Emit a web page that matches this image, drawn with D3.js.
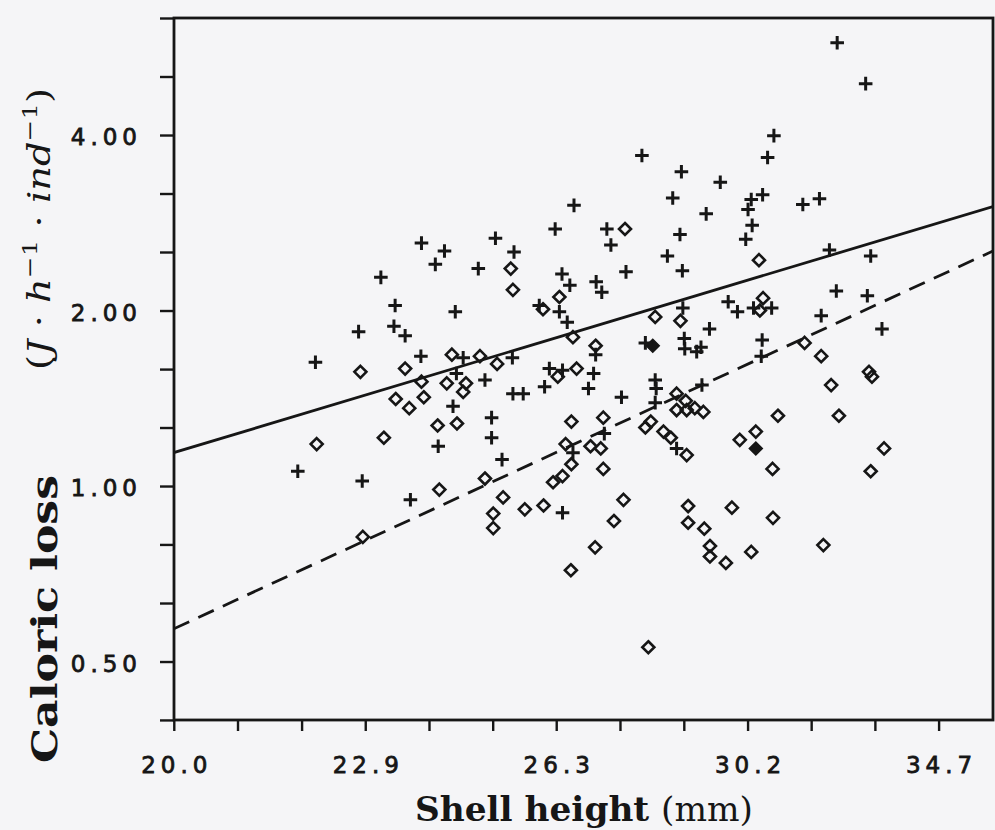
<!DOCTYPE html>
<html><head><meta charset="utf-8">
<script src="https://cdn.jsdelivr.net/npm/d3@7"></script>
<style>
body{margin:0;background:#f5f5f7;}
svg{display:block;}
</style>
</head><body>
<svg id="chart" width="995" height="830"></svg>
<script>
// ---- axis ticks ----
const xTickValues = [19.95, 20.89, 21.88, 22.91, 23.99, 25.12, 26.30, 27.54, 28.84, 30.20, 31.62, 33.11, 34.67];
const xTickLabels = ["20.0", "", "", "22.9", "", "", "26.3", "", "", "30.2", "", "", "34.7"];
const yTickValues = [0.397, 0.50, 0.63, 0.794, 1.00, 1.26, 1.587, 2.00, 2.52, 3.175, 4.00, 5.04, 6.35];
const yTickLabels = ["", "0.50", "", "", "1.00", "", "", "2.00", "", "", "4.00", "", ""];

// ---- series: crosses (+) ----
const crossX = [23.86,24.26,24.10,24.86,23.17,23.41,24.45,22.80,23.39,23.58,22.10,23.85,24.59,24.47,24.41,24.15,21.82,22.86,23.67,
 26.64,26.28,25.17,27.28,27.36,25.51,27.66,26.41,26.56,27.07,27.18,26.36,26.51,25.48,27.06,24.98,26.17,26.42,27.02,25.49,25.68,
 26.08,26.92,27.57,25.10,25.10,25.29,27.23,26.62,26.42,25.98,30.78,30.64,27.98,28.79,29.61,28.61,30.53,30.28,30.21,29.31,30.30,
 28.76,30.16,28.50,28.81,28.82,29.78,29.98,30.33,30.73,29.38,28.05,28.85,28.86,29.11,29.20,30.52,30.50,28.25,28.27,28.25,29.22,
 28.69,32.22,32.89,31.43,31.81,32.04,33.01,32.20,32.93,31.85,33.28];
const crossY = [2.61,2.53,2.40,2.36,2.28,2.04,1.99,1.84,1.88,1.81,1.63,1.67,1.66,1.56,1.37,1.17,1.06,1.02,0.947,
 3.03,2.76,2.66,2.76,2.59,2.52,2.33,2.31,2.21,2.24,2.15,1.99,1.91,1.66,1.68,1.52,1.59,1.58,1.56,1.44,1.44,
 1.48,1.47,1.42,1.31,1.21,1.11,1.23,1.14,0.90,2.04,3.99,3.66,3.69,3.46,3.32,3.12,3.16,3.10,2.98,2.93,2.80,
 2.70,2.65,2.48,2.34,2.02,2.07,1.99,2.02,2.02,1.86,1.76,1.79,1.72,1.70,1.73,1.78,1.67,1.52,1.47,1.39,1.49,
 1.16,5.76,4.90,3.04,3.11,2.54,2.48,2.16,2.12,1.96,1.86];

// ---- series: open diamonds ----
const diamondX = [22.83,23.58,23.86,24.30,24.64,24.59,23.42,23.90,23.65,24.14,24.48,23.22,22.12,24.17,22.87,24.89,24.39,
 27.64,25.45,25.49,26.36,26.05,26.62,25.20,26.33,26.69,26.59,27.21,26.48,26.96,27.16,26.59,26.42,26.24,27.21,24.98,25.31,
 25.71,26.06,25.13,25.13,27.61,27.42,27.05,26.58,27.06,30.45,30.54,30.47,28.25,28.77,28.69,28.88,28.69,28.90,29.07,29.25,
 28.05,28.16,28.42,28.57,28.90,30.87,30.38,30.03,30.75,28.93,29.86,28.93,29.27,30.76,29.39,29.39,29.73,30.28,31.47,31.85,
 32.08,32.97,33.04,32.26,33.33,33.01,31.90,28.11];
const diamondY = [1.57,1.59,1.51,1.50,1.50,1.45,1.41,1.42,1.36,1.27,1.28,1.21,1.18,0.986,0.818,1.67,1.68,
 2.76,2.36,2.17,2.11,2.01,1.80,1.62,1.54,1.59,1.29,1.31,1.18,1.17,1.16,1.09,1.04,1.015,1.07,1.03,0.956,
 0.912,0.926,0.897,0.847,0.947,0.871,0.785,0.717,1.74,2.44,2.10,2.00,1.95,1.92,1.44,1.40,1.35,1.35,1.36,1.34,
 1.26,1.29,1.24,1.21,1.13,1.32,1.24,1.20,1.07,0.924,0.918,0.865,0.845,0.882,0.789,0.757,0.738,0.771,1.76,1.67,
 1.49,1.57,1.54,1.32,1.16,1.06,0.792,0.529];

// ---- series: filled diamonds ----
const filledX = [28.20, 30.38];
const filledY = [1.74, 1.16];

// ---- fitted lines (end points) ----
const solidX = [19.95, 36.06];
const solidY = [1.141, 3.016];
const dashedX = [19.95, 36.06];
const dashedY = [0.569, 2.53];

const ink = "#161616";
const L = 174, R = 993, T = 18, B = 720;
const svg = d3.select("#chart");

const x = d3.scaleLog().domain([19.953, 36.06]).range([L, R]);
const y = d3.scaleLog().domain([0.3969, 6.35]).range([B, T]);

svg.append("defs").append("clipPath").attr("id", "plot")
  .append("rect").attr("x", L).attr("y", T).attr("width", R - L).attr("height", B - T);

// axes
const xAxis = svg.append("g").attr("transform", `translate(0,${B})`)
  .call(d3.axisBottom(x).tickValues(xTickValues).tickSize(11).tickFormat((d, i) => xTickLabels[i]));
const yAxis = svg.append("g").attr("transform", `translate(${L},0)`)
  .call(d3.axisLeft(y).tickValues(yTickValues).tickSize(14).tickFormat((d, i) => yTickLabels[i]));
[xAxis, yAxis].forEach(g => {
  g.select(".domain").remove();
  g.selectAll(".tick line").attr("stroke", ink).attr("stroke-width", 2.4);
  g.selectAll(".tick text").attr("fill", ink).attr("stroke", ink).attr("stroke-width", 0.8)
    .style("font-family", "'DejaVu Sans', sans-serif").style("font-size", "23px")
    .style("letter-spacing", "5px");
});
xAxis.selectAll(".tick text").attr("y", 53).attr("dy", 0).attr("dx", 2.5);
yAxis.selectAll(".tick text").attr("x", -32).attr("dy", "0.42em");

// frame
svg.append("rect").attr("x", L).attr("y", T).attr("width", R - L).attr("height", B - T)
  .attr("fill", "none").attr("stroke", ink).attr("stroke-width", 2.8);

const plot = svg.append("g").attr("clip-path", "url(#plot)");
const line = d3.line().x(d => x(d[0])).y(d => y(d[1]));
plot.append("path").datum(solidX.map((v, i) => [v, solidY[i]]))
  .attr("d", line).attr("fill", "none").attr("stroke", ink).attr("stroke-width", 2.8);
plot.append("path").datum(dashedX.map((v, i) => [v, dashedY[i]]))
  .attr("d", line).attr("fill", "none").attr("stroke", ink).attr("stroke-width", 2.8)
  .attr("stroke-dasharray", "17,10");

// markers
plot.selectAll("path.dia").data(diamondX.map((v, i) => [v, diamondY[i]])).enter()
  .append("path").attr("class", "dia")
  .attr("transform", d => `translate(${x(d[0])},${y(d[1])})`)
  .attr("d", "M0,-6L6,0L0,6L-6,0Z")
  .attr("fill", "none").attr("stroke", ink).attr("stroke-width", 2.6);
plot.selectAll("path.fdia").data(filledX.map((v, i) => [v, filledY[i]])).enter()
  .append("path").attr("class", "fdia")
  .attr("transform", d => `translate(${x(d[0])},${y(d[1])})`)
  .attr("d", "M0,-6.5L6.5,0L0,6.5L-6.5,0Z")
  .attr("fill", ink).attr("stroke", ink).attr("stroke-width", 1.5);
plot.selectAll("path.cross").data(crossX.map((v, i) => [v, crossY[i]])).enter()
  .append("path").attr("class", "cross")
  .attr("transform", d => `translate(${x(d[0])},${y(d[1])})`)
  .attr("d", "M-6.8,0H6.8M0,-6.8V6.8")
  .attr("fill", "none").attr("stroke", ink).attr("stroke-width", 3);

// x title
const xt = svg.append("text").attr("x", 584).attr("y", 821).attr("text-anchor", "middle")
  .attr("textLength", 338).attr("lengthAdjust", "spacingAndGlyphs")
  .attr("fill", ink).style("font-family", "'DejaVu Serif', serif").style("font-size", "33px");
xt.append("tspan").style("font-weight", "bold").text("Shell height ");
xt.append("tspan").text("(mm)");

// y title
svg.append("text").attr("transform", "translate(57,619) rotate(-90)").attr("text-anchor", "middle")
  .attr("textLength", 288).attr("lengthAdjust", "spacingAndGlyphs")
  .attr("fill", ink).style("font-family", "'DejaVu Serif', serif").style("font-size", "35px")
  .style("font-weight", "bold").text("Caloric loss");
const yt = svg.append("text").attr("transform", "translate(50,229) rotate(-90)").attr("text-anchor", "middle")
  .attr("textLength", 282).attr("lengthAdjust", "spacingAndGlyphs")
  .attr("fill", ink).style("font-family", "'DejaVu Serif', serif").style("font-size", "31px");
yt.append("tspan").text("(");
yt.append("tspan").style("font-style", "italic").text("J");
yt.append("tspan").text(" · ");
yt.append("tspan").style("font-style", "italic").text("h");
yt.append("tspan").attr("dy", -13).style("font-size", "21px").text("−1");
yt.append("tspan").attr("dy", 13).text(" · ");
yt.append("tspan").style("font-style", "italic").text("ind");
yt.append("tspan").attr("dy", -13).style("font-size", "21px").text("−1");
yt.append("tspan").attr("dy", 13).text(")");
</script>
</body></html>
